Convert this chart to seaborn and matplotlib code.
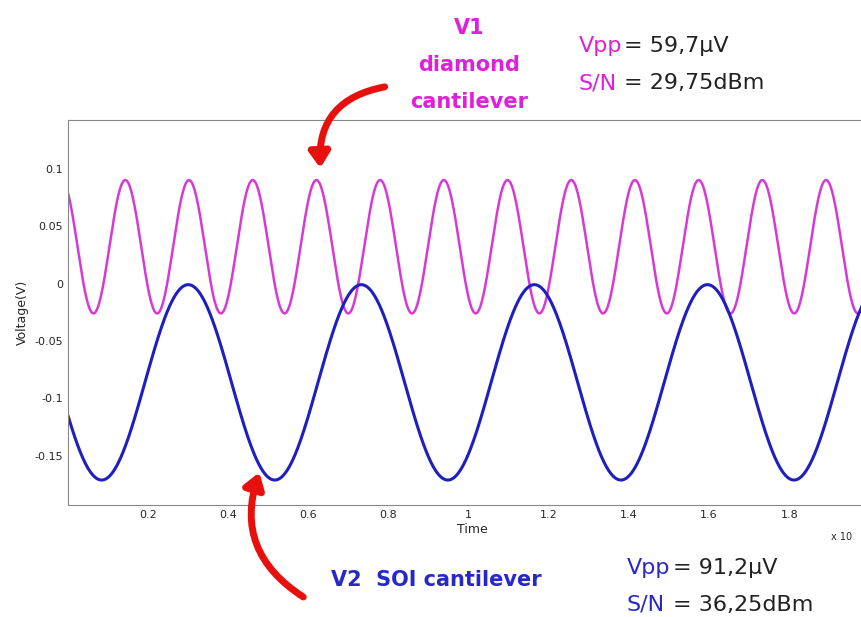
import numpy as np
import matplotlib
matplotlib.use("Agg")
import matplotlib.pyplot as plt
import seaborn as sns
import pandas as pd

# values
time_range = [0.0, 2.02]
n_points = 4000
v1_offset, v1_amp, v1_period, v1_peak_t = 0.032, 0.058, 0.159, 0.62
v2_offset, v2_amp, v2_period, v2_peak_t = -0.086, 0.085, 0.432, 0.30
x_ticks = [0.2, 0.4, 0.6, 0.8, 1.0, 1.2, 1.4, 1.6, 1.8]
x_tick_labels = ["0.2", "0.4", "0.6", "0.8", "1", "1.2", "1.4", "1.6", "1.8"]
y_ticks = [-0.15, -0.1, -0.05, 0, 0.05, 0.1]
y_tick_labels = ["-0.15", "-0.1", "-0.05", "0", "0.05", "0.1"]

t = np.linspace(time_range[0], time_range[1], n_points)
df = pd.DataFrame({
    "Time": t,
    "V1": v1_offset + v1_amp * np.cos(2 * np.pi * (t - v1_peak_t) / v1_period),
    "V2": v2_offset + v2_amp * np.cos(2 * np.pi * (t - v2_peak_t) / v2_period),
})

sns.set_style("white")
fig = plt.figure(figsize=(8.61, 6.17), dpi=100)
ax = fig.add_axes([0.079, 0.181, 0.94, 0.624])

sns.lineplot(data=df, x="Time", y="V1", color="#d63ad6", lw=1.8, ax=ax)
sns.lineplot(data=df, x="Time", y="V2", color="#1f1fbf", lw=2.2, ax=ax)

ax.set_xlim(0, 2.02)
ax.set_ylim(-0.193, 0.142)
ax.set_xticks(x_ticks)
ax.set_xticklabels(x_tick_labels, fontsize=8)
ax.set_yticks(y_ticks)
ax.set_yticklabels(y_tick_labels, fontsize=8)
ax.tick_params(direction="in", length=4)
ax.set_xlabel("Time", fontsize=9, labelpad=2)
ax.set_ylabel("Voltage(V)", fontsize=9)
for s in ax.spines.values():
    s.set_color("#888888")
fig.text(0.965, 0.125, "x 10", fontsize=7)

# annotations
mag = "#e020d8"
fig.text(0.545, 0.945, "V1", color=mag, fontsize=15, fontweight="bold", ha="center")
fig.text(0.545, 0.885, "diamond", color=mag, fontsize=15, fontweight="bold", ha="center")
fig.text(0.545, 0.825, "cantilever", color=mag, fontsize=15, fontweight="bold", ha="center")
fig.text(0.672, 0.915, "Vpp", color=mag, fontsize=16)
fig.text(0.725, 0.915, "= 59,7\u00b5V", color="#222222", fontsize=16)
fig.text(0.672, 0.855, "S/N", color=mag, fontsize=16)
fig.text(0.725, 0.855, "= 29,75dBm", color="#222222", fontsize=16)

blue = "#2828c8"
fig.text(0.385, 0.05, "V2  SOI cantilever", color=blue, fontsize=15, fontweight="bold")
fig.text(0.728, 0.07, "Vpp", color=blue, fontsize=16)
fig.text(0.782, 0.07, "= 91,2\u00b5V", color="#222222", fontsize=16)
fig.text(0.728, 0.01, "S/N", color=blue, fontsize=16)
fig.text(0.782, 0.01, "= 36,25dBm", color="#222222", fontsize=16)

arrow = dict(arrowstyle="-|>,head_width=0.6,head_length=0.9", color="#e8100c", lw=5)
ax.annotate("", xy=(0.63, 0.098), xycoords="data", xytext=(0.45, 0.86),
            textcoords="figure fraction",
            arrowprops=dict(connectionstyle="arc3,rad=0.45", **arrow))
ax.annotate("", xy=(0.48, -0.162), xycoords="data", xytext=(0.355, 0.03),
            textcoords="figure fraction",
            arrowprops=dict(connectionstyle="arc3,rad=-0.4", **arrow))

fig.savefig("out.png", dpi=100)
